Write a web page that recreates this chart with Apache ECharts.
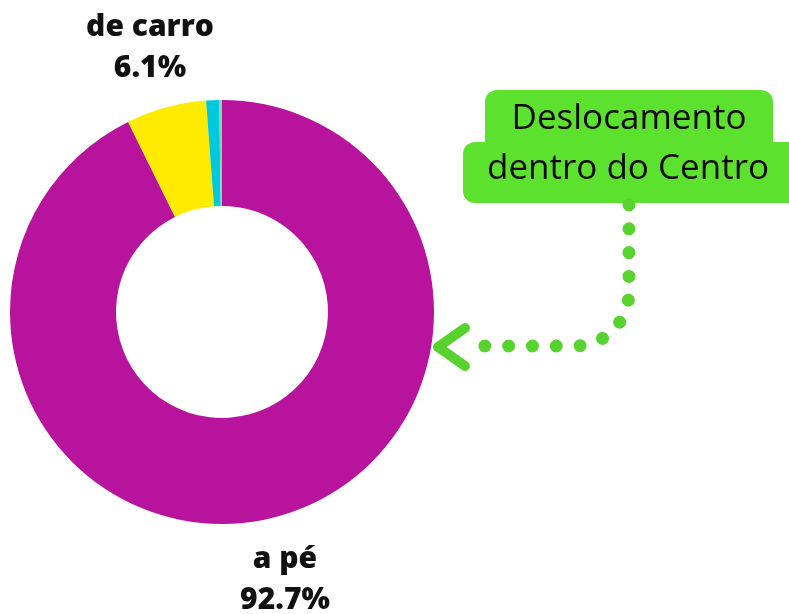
<!DOCTYPE html>
<html>
<head>
<meta charset="utf-8">
<script src="https://cdn.jsdelivr.net/npm/echarts@6/dist/echarts.min.js"></script>
<style>
  html, body { margin: 0; padding: 0; background: #fff; }
  #chart { width: 789px; height: 614px; }
</style>
</head>
<body>
<div id="chart"></div>
<script>
// dados do gráfico
const categories = ['a pé', 'de carro', 'outro', 'outro 2'];
const values = [92.7, 6.1, 1.0, 0.2];
const colors = ['#B8139C', '#FFEB00', '#00C9DD', '#7ED9A8'];
const showLabel = [true, true, false, false];
const calloutLines = ['Deslocamento', 'dentro do Centro'];

const chart = echarts.init(document.getElementById('chart'));

// posições dos rótulos (centro do bloco de texto)
const labelPos = {
  0: { x: 285, y: 580 },
  1: { x: 150, y: 48 }
};

const green = '#5DE12F';
const dotGreen = '#57D22E';

// caminho da seta: descida, curva, horizontal
const arrowPts = [[629, 205]];
for (let i = 0; i <= 12; i++) {
  const t = (Math.PI / 2) * i / 12;
  arrowPts.push([575 + 54 * Math.cos(t), 292 + 54 * Math.sin(t)]);
}
arrowPts.push([478, 346]);

chart.setOption({
  animation: false,
  series: [{
    type: 'pie',
    center: [222, 312],
    radius: [106, 212],
    startAngle: 90,
    clockwise: true,
    silent: true,
    label: {
      show: true,
      position: 'outside',
      formatter: (p) => p.name + '\n' + p.value + '%',
      fontFamily: 'Open Sans',
      fontWeight: 800,
      fontSize: 30,
      lineHeight: 41,
      color: '#111',
      align: 'center',
      overflow: 'none'
    },
    labelLine: { show: false },
    labelLayout: (params) => {
      const pos = labelPos[params.dataIndex];
      if (!pos) return {};
      return { x: pos.x, y: pos.y, align: 'center', verticalAlign: 'middle' };
    },
    data: categories.map((name, i) => ({
      name: name,
      value: values[i],
      itemStyle: { color: colors[i] },
      label: { show: showLabel[i] }
    }))
  }],
  graphic: [
    // caixa verde (duas partes arredondadas)
    {
      type: 'rect',
      shape: { x: 485, y: 90, width: 288, height: 70, r: 12 },
      style: { fill: green }
    },
    {
      type: 'rect',
      shape: { x: 463, y: 142, width: 340, height: 61, r: 12 },
      style: { fill: green }
    },
    {
      type: 'text',
      style: {
        x: 629, y: 119,
        text: calloutLines[0],
        fontFamily: 'Open Sans',
        fontSize: 35,
        fill: '#0a0a0a',
        align: 'center',
        verticalAlign: 'middle'
      }
    },
    {
      type: 'text',
      style: {
        x: 628, y: 169,
        text: calloutLines[1],
        fontFamily: 'Open Sans',
        fontSize: 35,
        fill: '#0a0a0a',
        align: 'center',
        verticalAlign: 'middle'
      }
    },
    // seta pontilhada
    {
      type: 'polyline',
      shape: { points: arrowPts },
      style: {
        fill: null,
        stroke: dotGreen,
        lineWidth: 13,
        lineCap: 'round',
        lineDash: [0.01, 23.8]
      }
    },
    {
      type: 'polyline',
      shape: { points: [[465, 328], [438, 347], [465, 366]] },
      style: {
        fill: null,
        stroke: dotGreen,
        lineWidth: 10,
        lineCap: 'round',
        lineJoin: 'round'
      }
    }
  ]
});
</script>
</body>
</html>
